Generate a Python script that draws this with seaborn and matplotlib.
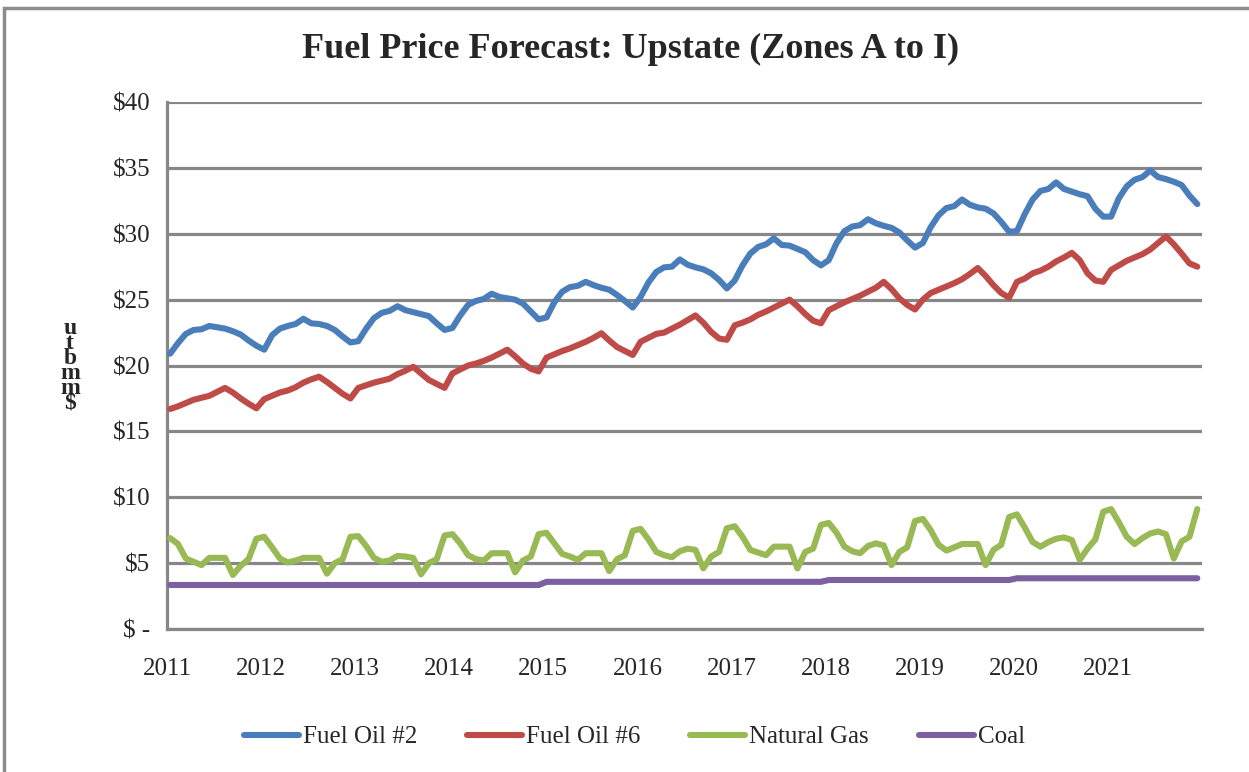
import numpy as np
import pandas as pd
import seaborn as sns
import matplotlib.pyplot as plt
from matplotlib.lines import Line2D
from matplotlib.patches import Rectangle

# Valores mensais (jan/2011 a dez/2021), $/mmbtu
years = ["2011", "2012", "2013", "2014", "2015", "2016",
         "2017", "2018", "2019", "2020", "2021"]
series_names = ["Fuel Oil #2", "Fuel Oil #6", "Natural Gas", "Coal"]
y_tick_labels = ["$ -", "$5", "$10", "$15", "$20", "$25", "$30", "$35", "$40"]

fuel_oil_2 = [
    20.9, 21.7, 22.4, 22.7, 22.75, 23.0, 22.9, 22.8, 22.6, 22.35, 21.9, 21.5,
    21.2, 22.3, 22.8, 23.0, 23.15, 23.55, 23.2, 23.15, 23.0, 22.7, 22.2, 21.75,
    21.85, 22.8, 23.6, 24.0, 24.15, 24.5, 24.2, 24.05, 23.9, 23.75, 23.2, 22.7,
    22.85, 23.8, 24.6, 24.9, 25.05, 25.45, 25.2, 25.1, 25.0, 24.7, 24.1, 23.5,
    23.65, 24.8, 25.6, 25.95, 26.05, 26.35, 26.1, 25.9, 25.75, 25.35, 24.9, 24.4,
    25.2, 26.3, 27.1, 27.45, 27.5, 28.05, 27.65, 27.45, 27.3, 27.0, 26.5, 25.85,
    26.45, 27.6, 28.5, 29.0, 29.2, 29.65, 29.15, 29.1, 28.85, 28.6, 28.0, 27.6,
    28.0, 29.3, 30.2, 30.55, 30.65, 31.1, 30.8, 30.6, 30.45, 30.1, 29.5, 28.95,
    29.3, 30.5, 31.4, 31.95, 32.1, 32.6, 32.2, 32.0, 31.9, 31.55, 30.9, 30.15,
    30.2, 31.5, 32.6, 33.25, 33.4, 33.9, 33.4, 33.2, 33.0, 32.85, 31.9, 31.3,
    31.3, 32.7, 33.6, 34.1, 34.3, 34.8, 34.3, 34.15, 33.95, 33.7, 32.9, 32.25,
]

fuel_oil_6 = [
    16.7, 16.9, 17.15, 17.4, 17.55, 17.7, 18.0, 18.3, 17.95, 17.5, 17.1, 16.75,
    17.45, 17.7, 17.95, 18.1, 18.35, 18.7, 18.95, 19.15, 18.75, 18.3, 17.85, 17.5,
    18.3, 18.5, 18.7, 18.85, 19.0, 19.35, 19.6, 19.9, 19.4, 18.9, 18.6, 18.3,
    19.4, 19.7, 20.0, 20.15, 20.35, 20.6, 20.9, 21.2, 20.7, 20.15, 19.75, 19.55,
    20.6, 20.85, 21.1, 21.3, 21.55, 21.8, 22.1, 22.45, 21.9, 21.4, 21.1, 20.8,
    21.8, 22.1, 22.4, 22.5, 22.8, 23.1, 23.45, 23.8, 23.25, 22.55, 22.05, 21.95,
    23.05, 23.25, 23.5, 23.85, 24.1, 24.4, 24.7, 25.0, 24.5, 23.9, 23.4, 23.2,
    24.2, 24.5, 24.8, 25.05, 25.3, 25.6, 25.9, 26.35, 25.8, 25.1, 24.6, 24.25,
    25.0, 25.5, 25.75, 26.0, 26.25, 26.55, 26.95, 27.4, 26.8, 26.1, 25.5, 25.15,
    26.35, 26.6, 27.0, 27.2, 27.5, 27.9, 28.2, 28.55, 28.0, 27.0, 26.45, 26.35,
    27.25, 27.6, 27.95, 28.2, 28.45, 28.8, 29.3, 29.8, 29.2, 28.5, 27.75, 27.5,
]

natural_gas = [
    6.9, 6.45, 5.35, 5.1, 4.85, 5.4, 5.4, 5.4, 4.1, 4.8, 5.3, 6.85,
    7.0, 6.2, 5.35, 5.05, 5.2, 5.4, 5.4, 5.4, 4.2, 5.0, 5.3, 7.0,
    7.05, 6.3, 5.4, 5.1, 5.2, 5.55, 5.5, 5.4, 4.15, 5.0, 5.3, 7.1,
    7.2, 6.5, 5.6, 5.3, 5.2, 5.75, 5.75, 5.75, 4.3, 5.2, 5.5, 7.2,
    7.3, 6.5, 5.7, 5.5, 5.25, 5.75, 5.75, 5.75, 4.4, 5.3, 5.6, 7.45,
    7.6, 6.8, 5.85, 5.6, 5.45, 5.9, 6.1, 6.0, 4.6, 5.5, 5.85, 7.65,
    7.8, 7.0, 6.0, 5.8, 5.6, 6.25, 6.25, 6.25, 4.6, 5.85, 6.1, 7.9,
    8.05, 7.3, 6.25, 5.9, 5.75, 6.3, 6.5, 6.35, 4.85, 5.85, 6.2, 8.2,
    8.35, 7.5, 6.4, 5.95, 6.2, 6.45, 6.45, 6.45, 4.85, 6.0, 6.4, 8.5,
    8.7, 7.7, 6.6, 6.25, 6.6, 6.85, 6.95, 6.75, 5.25, 6.1, 6.8, 8.9,
    9.1, 8.1, 7.0, 6.45, 6.9, 7.25, 7.4, 7.2, 5.35, 6.65, 7.0, 9.1,
]

# carvão: valor anual constante ao longo dos meses
coal_annual = [3.34, 3.34, 3.34, 3.34, 3.58, 3.58, 3.58, 3.72, 3.72, 3.85, 3.85]
coal = list(np.repeat(coal_annual, 12))

colors = ["#4A7EBB", "#BE4B48", "#98B954", "#7D60A0"]
grid_gray = "#878787"

# monta o dataframe longo para o seaborn
n = len(fuel_oil_2)
month_pos = np.arange(n) + 0.4
df = pd.concat([
    pd.DataFrame({"mes": month_pos, "preco": vals, "serie": name})
    for name, vals in zip(series_names, [fuel_oil_2, fuel_oil_6, natural_gas, coal])
])

sns.set_style("white")
plt.rcParams["font.family"] = ["Liberation Serif", "DejaVu Serif"]

fig = plt.figure(figsize=(12.49, 7.72), dpi=100)
ax = fig.add_axes([167 / 1249, 1 - 629 / 772, (1202 - 167) / 1249, (629 - 102) / 772])

sns.lineplot(data=df, x="mes", y="preco", hue="serie", hue_order=series_names,
             palette=colors, linewidth=4.4, ax=ax, legend=False,
             solid_joinstyle="round", solid_capstyle="round", zorder=3)

# eixos e grade
ax.set_xlim(0, 132)
ax.set_ylim(0, 40)
ax.set_yticks(np.arange(0, 45, 5))
ax.set_yticklabels(y_tick_labels)
ax.set_xticks(np.arange(0, 133, 12))
ax.set_xticklabels(years + [""])
ax.yaxis.grid(True, color=grid_gray, linewidth=2.3, zorder=1)
ax.xaxis.grid(False)
for side in ["top", "right"]:
    ax.spines[side].set_visible(False)
for side in ["left", "bottom"]:
    ax.spines[side].set_color(grid_gray)
    ax.spines[side].set_linewidth(2.3)
ax.tick_params(axis="y", length=7, width=2.3, color=grid_gray, pad=5, labelsize=18)
ax.tick_params(axis="x", length=6, width=2.3, color=grid_gray, pad=15, labelsize=18)
ax.set_xlabel("")
ax.set_ylabel("")

# título
fig.text(0.505, 1 - 49 / 772, "Fuel Price Forecast: Upstate (Zones A to I)",
         ha="center", va="center", fontsize=26, fontweight="bold")

# rótulo do eixo y empilhado (um único texto)
fig.text(70 / 1249, 1 - 366 / 772, "u\nt\nb\nm\nm\n$", ha="center", va="center",
         fontsize=17, fontweight="bold", linespacing=0.62)

# legenda
handles = [Line2D([0], [0], color=c, lw=4.4, solid_capstyle="round") for c in colors]
fig.legend(handles, series_names, loc="center", bbox_to_anchor=(0.508, 1 - 737 / 772),
           ncol=4, frameon=False, fontsize=18, handlelength=2.2,
           handletextpad=0.15, columnspacing=2.0)

# moldura da área do gráfico
fig.patches.append(Rectangle((4 / 1249, -0.05), 1.2, 1.05 - 8 / 772,
                             transform=fig.transFigure, fill=False,
                             edgecolor="#8c8c8c", linewidth=2.5))

plt.savefig("out.png", dpi=100)
